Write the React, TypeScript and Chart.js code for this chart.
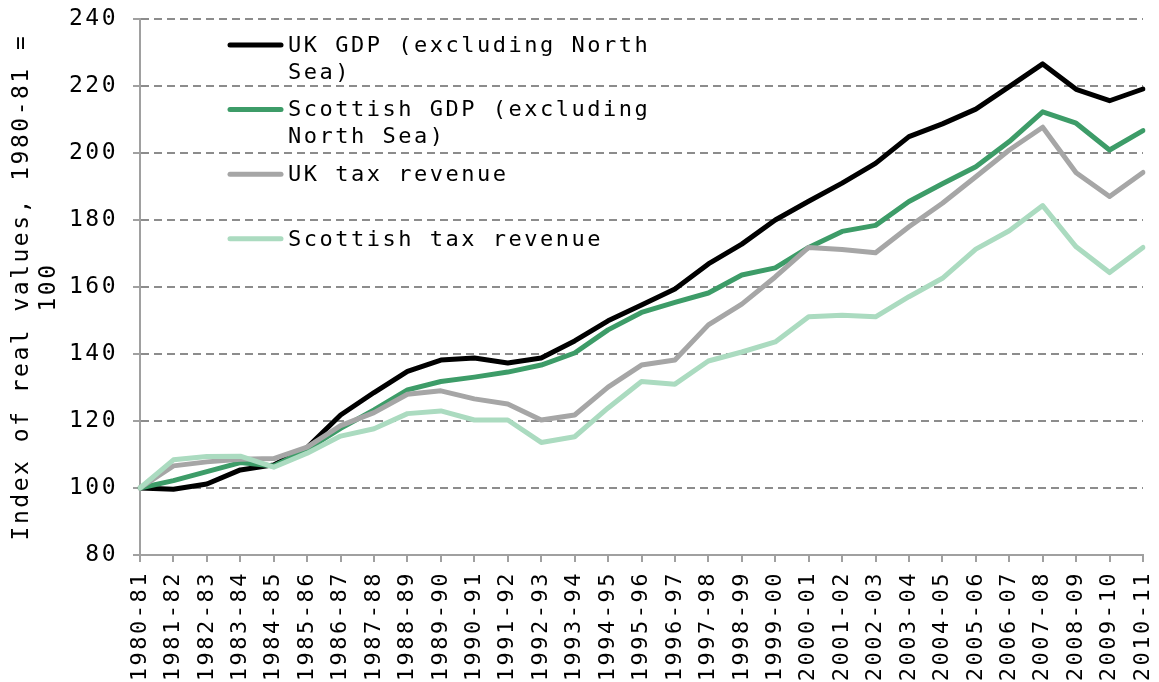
import React, { useEffect, useRef } from 'react';
import { Chart, registerables } from 'chart.js';

Chart.register(...registerables);

const CATEGORIES = [
  '1980-81', '1981-82', '1982-83', '1983-84', '1984-85', '1985-86', '1986-87', '1987-88',
  '1988-89', '1989-90', '1990-91', '1991-92', '1992-93', '1993-94', '1994-95', '1995-96',
  '1996-97', '1997-98', '1998-99', '1999-00', '2000-01', '2001-02', '2002-03', '2003-04',
  '2004-05', '2005-06', '2006-07', '2007-08', '2008-09', '2009-10', '2010-11',
];

const SERIES_LABELS = [
  'UK GDP (excluding North Sea)',
  'Scottish GDP (excluding North Sea)',
  'UK tax revenue',
  'Scottish tax revenue',
];

const UK_GDP = [
  100, 99.6, 101.2, 105.4, 106.9, 112.1, 121.8, 128.5, 134.8, 138.2, 138.8, 137.3, 138.8,
  143.9, 149.9, 154.6, 159.4, 166.9, 172.8, 180, 185.6, 191, 196.9, 204.9, 208.7, 213.1,
  219.8, 226.6, 219, 215.6, 219.1,
];

const SCOT_GDP = [
  100, 102.2, 104.9, 107.6, 106.6, 111.5, 117.8, 123.3, 129.3, 131.8, 133.1, 134.6, 136.7,
  140.3, 147.2, 152.4, 155.4, 158.2, 163.6, 165.7, 171.8, 176.6, 178.4, 185.5, 190.8, 195.9,
  203.4, 212.3, 208.9, 200.9, 206.7,
];

const UK_TAX = [
  100, 106.6, 107.8, 108.6, 108.8, 112.2, 118.6, 122.5, 128, 129, 126.6, 125.1, 120.3,
  121.8, 130.1, 136.7, 138.2, 148.7, 154.9, 163, 171.8, 171.2, 170.2, 178, 185, 192.9,
  200.9, 207.7, 194.1, 187, 194.2,
];

const SCOT_TAX = [
  100, 108.4, 109.4, 109.5, 106.2, 110.4, 115.5, 117.7, 122.2, 123, 120.3, 120.3, 113.6,
  115.3, 123.9, 131.8, 131, 137.9, 140.6, 143.6, 151.1, 151.6, 151.1, 157.1, 162.6, 171.3,
  176.8, 184.3, 172, 164.3, 171.8,
];

const SERIES_VALUES = [UK_GDP, SCOT_GDP, UK_TAX, SCOT_TAX];
const SERIES_COLORS = ['#000000', '#3d9c68', '#a6a6a6', '#abdbc0'];

const Y_MIN = 80;
const Y_MAX = 240;
const Y_STEP = 20;
const Y_TITLE = ['Index of real values, 1980-81 =', '100'];

const FONT = '"DejaVu Sans Mono", monospace';
const LETTER_SPACING = '2.5px';

const setSpacing = (chart: any) => {
  try {
    chart.ctx.letterSpacing = LETTER_SPACING;
  } catch (e) {
    /* ignore */
  }
};

const spacingPlugin = {
  id: 'letterSpacing',
  beforeUpdate: setSpacing,
  beforeLayout: setSpacing,
  beforeDraw: setSpacing,
};

function wrapText(ctx: CanvasRenderingContext2D, text: string, maxWidth: number): string[] {
  const words = text.split(' ');
  const lines: string[] = [];
  let cur = '';
  for (const w of words) {
    const test = cur ? cur + ' ' + w : w;
    if (cur && ctx.measureText(test).width > maxWidth) {
      lines.push(cur);
      cur = w;
    } else {
      cur = test;
    }
  }
  if (cur) lines.push(cur);
  return lines;
}

const legendPlugin = {
  id: 'insideLegend',
  afterDraw(chart: any) {
    const ctx: CanvasRenderingContext2D = chart.ctx;
    ctx.save();
    (ctx as any).letterSpacing = LETTER_SPACING;
    ctx.font = `22px ${FONT}`;
    ctx.textBaseline = 'middle';
    ctx.textAlign = 'left';
    chart.data.datasets.forEach((ds: any, i: number) => {
      const y0 = 45 + i * 64.6;
      ctx.strokeStyle = ds.borderColor;
      ctx.lineWidth = 5;
      ctx.lineCap = 'round';
      ctx.beginPath();
      ctx.moveTo(230, y0);
      ctx.lineTo(281, y0);
      ctx.stroke();
      const lines = wrapText(ctx, ds.label, 385);
      ctx.fillStyle = '#000';
      lines.forEach((ln, j) => ctx.fillText(ln, 288, y0 + 1 + j * 27));
    });
    ctx.restore();
  },
};

const zeroPadding = (s: any) => {
  s.paddingTop = 0;
  s.paddingBottom = 0;
  s.paddingLeft = 0;
  s.paddingRight = 0;
};

export default function App() {
  const ref = useRef<HTMLCanvasElement>(null);

  useEffect(() => {
    if (!ref.current) return;
    const datasets = SERIES_LABELS.map((label, i) => ({
      label,
      data: SERIES_VALUES[i],
      borderColor: SERIES_COLORS[i],
      backgroundColor: SERIES_COLORS[i],
      borderWidth: 5,
      pointRadius: 0,
      pointHoverRadius: 0,
      tension: 0,
      fill: false,
      borderJoinStyle: 'round' as const,
      borderCapStyle: 'round' as const,
      order: SERIES_LABELS.length - i,
    }));

    const chart = new Chart(ref.current, {
      type: 'line',
      data: { labels: CATEGORIES, datasets },
      options: {
        responsive: false,
        animation: false,
        devicePixelRatio: 1,
        layout: { padding: { top: 19, right: 16, bottom: 0, left: 0 } },
        plugins: {
          legend: { display: false },
          tooltip: { enabled: false },
        },
        scales: {
          x: {
            type: 'category',
            offset: false,
            afterFit: (s: any) => {
              s.height = 127;
              zeroPadding(s);
            },
            grid: {
              display: true,
              drawOnChartArea: false,
              drawTicks: true,
              tickLength: 7,
              color: '#a0a0a0',
              lineWidth: 2,
            },
            border: { display: true, color: '#a0a0a0', width: 2 },
            ticks: {
              autoSkip: false,
              maxRotation: 90,
              minRotation: 90,
              padding: 9,
              color: '#000',
              font: { family: FONT, size: 22 },
            },
          },
          y: {
            min: Y_MIN,
            max: Y_MAX,
            afterFit: (s: any) => {
              s.width = 140;
              zeroPadding(s);
            },
            ticks: {
              stepSize: Y_STEP,
              padding: 15,
              color: '#000',
              font: { family: FONT, size: 23 },
            },
            grid: {
              color: '#8c8c8c',
              lineWidth: 2,
              tickLength: 7,
              tickColor: '#a0a0a0',
            },
            border: { display: true, color: '#a0a0a0', width: 2, dash: [8, 5] },
            title: {
              display: true,
              text: Y_TITLE,
              color: '#000',
              font: { family: FONT, size: 23, lineHeight: 27 / 23 },
              padding: { top: 9, bottom: 0 },
            },
          },
        },
      },
      plugins: [spacingPlugin, legendPlugin],
    } as any);

    return () => chart.destroy();
  }, []);

  return (
    <div style={{ position: 'absolute', left: 0, top: 0, width: 1159, height: 682, background: '#fff' }}>
      <canvas ref={ref} width={1159} height={682} style={{ display: 'block' }} />
    </div>
  );
}
